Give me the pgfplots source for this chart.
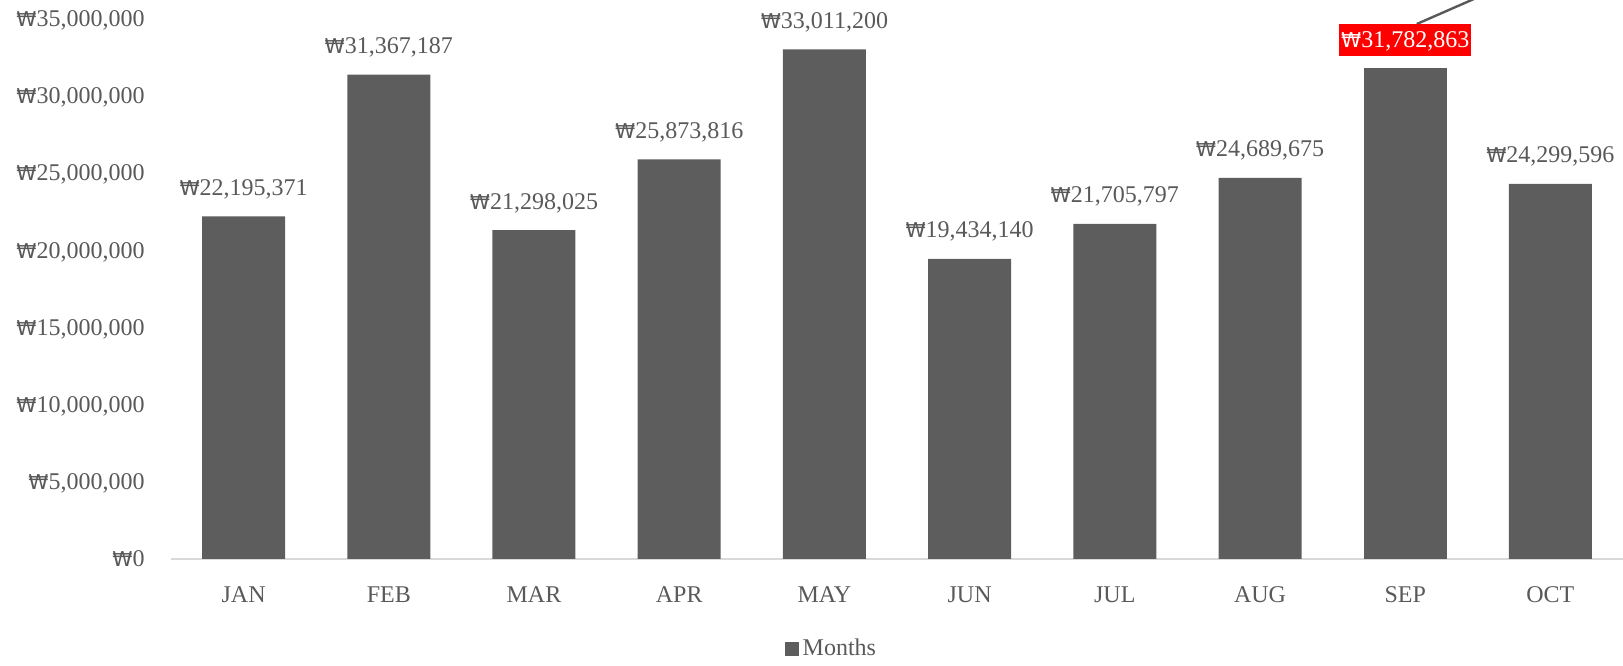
\documentclass[border=0pt]{standalone}
\usepackage{fontspec}
\setmainfont{Liberation Serif}
\newfontfamily\wonfont[Scale=0.85]{DejaVu Sans}
\usepackage{pgfplots}
\usepackage{pgfplotstable}
\pgfplotsset{compat=1.18}
\definecolor{barc}{HTML}{5D5D5D}
\definecolor{txtc}{HTML}{595959}
\definecolor{axc}{HTML}{D9D9D9}
\newcommand{\won}{{\wonfont ₩}}
\pgfplotstableread{
x y lab
0 22195371 22,195,371
1 31367187 31,367,187
2 21298025 21,298,025
3 25873816 25,873,816
4 33011200 33,011,200
5 19434140 19,434,140
6 21705797 21,705,797
7 24689675 24,689,675
9 24299596 24,299,596
}\dataA
\pgfplotstableread{
x y lab
8 31782863 31,782,863
}\dataB
\begin{document}
\begin{tikzpicture}
\begin{axis}[
  name=ax,
  at={(0,0)}, anchor=south west,
  scale only axis,
  width=726pt, height=270.2pt,
  xmin=-0.5, xmax=9.5,
  ymin=0, ymax=35000000,
  ybar, bar width=41.5pt,
  clip=false,
  axis x line*=bottom,
  axis y line*=left,
  x axis line style={draw=axc, line width=1pt},
  y axis line style={draw=none},
  xtick={0,...,9},
  xticklabels={JAN,FEB,MAR,APR,MAY,JUN,JUL,AUG,SEP,OCT},
  xtick style={draw=none},
  ytick={0,5000000,10000000,15000000,20000000,25000000,30000000,35000000},
  yticklabels={{\won0},{\won5,000,000},{\won10,000,000},{\won15,000,000},{\won20,000,000},{\won25,000,000},{\won30,000,000},{\won35,000,000}},
  ytick style={draw=none},
  scaled y ticks=false,
  tick label style={font=\fontsize{12}{14}\selectfont, text=txtc},
  xticklabel style={anchor=north, inner sep=0pt, yshift=-9.5pt},
  yticklabel style={anchor=base east, inner sep=0pt, xshift=-13pt, yshift=-4pt},
  /pgf/number format/assume math mode=true,
  legend style={draw=none, fill=none, at={(0.4555,-0.1665)}, anchor=center,
    font=\fontsize{12}{14}\selectfont, text=txtc, inner sep=0pt,
    nodes={inner sep=1.75pt}},
  legend image code/.code={\fill[#1] (0pt,-3.5pt) rectangle (7pt,3.5pt);},
]
\addplot[fill=barc, draw=none, bar shift=0pt,
  point meta=explicit symbolic,
  nodes near coords={\won\pgfplotspointmeta},
  every node near coord/.style={anchor=base, inner sep=0pt, yshift=10.5pt,
    font=\fontsize{12}{14}\selectfont, text=txtc}]
  table[x=x, y=y, meta=lab] {\dataA};
\addlegendentry{Months}
\addplot[fill=barc, draw=none, bar shift=0pt, forget plot,
  point meta=explicit symbolic,
  nodes near coords={\won\pgfplotspointmeta},
  every node near coord/.style={anchor=base, inner xsep=1pt, inner ysep=0pt,
    text height=11.5pt, text depth=4.5pt, fill=red, yshift=10.5pt,
    font=\fontsize{12}{14}\selectfont, text=white}]
  table[x=x, y=y, meta=lab] {\dataB};
\draw[line width=1.2pt, color=txtc] (axis cs:8.08,34650000) -- (axis cs:10.03,42680000);
\end{axis}
\pgfresetboundingbox
\useasboundingbox ([xshift=-85.5pt,yshift=-53.5pt]ax.south west) rectangle ([yshift=9.3pt]ax.north east);
\end{tikzpicture}
\end{document}
